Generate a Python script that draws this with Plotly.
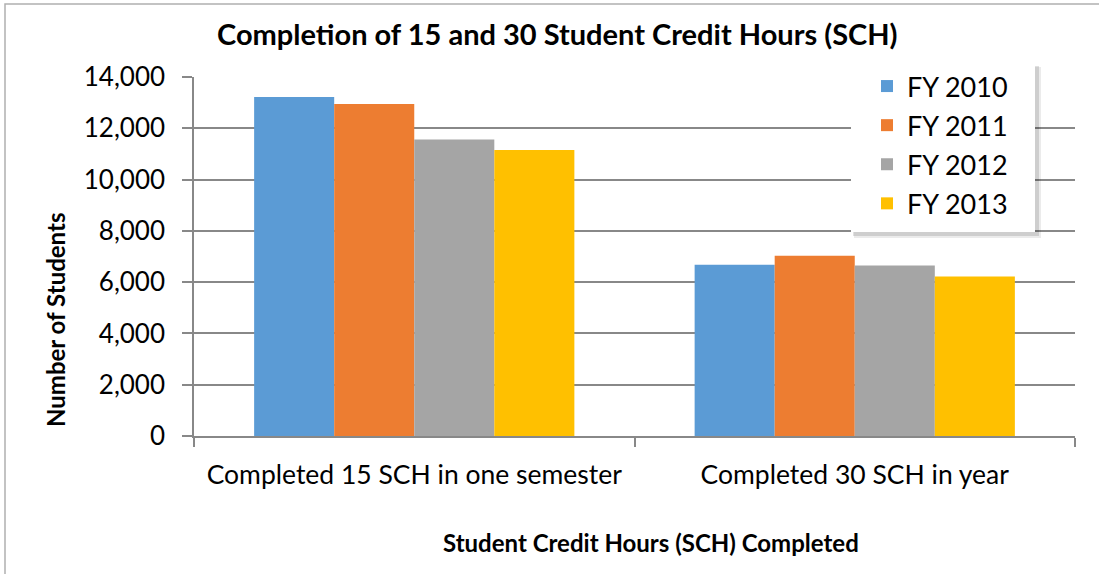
import plotly.graph_objects as go

categories = ["Completed 15 SCH in one semester", "Completed 30 SCH in year"]
series_names = ["FY 2010", "FY 2011", "FY 2012", "FY 2013"]
fy2010 = [13220, 6680]
fy2011 = [12950, 7030]
fy2012 = [11560, 6650]
fy2013 = [11150, 6220]
colors = ["#5B9BD5", "#ED7D31", "#A5A5A5", "#FFC000"]
y_ticks = [0, 2000, 4000, 6000, 8000, 10000, 12000, 14000]

W, H = 1099, 574
L, R, T, B = 194, 1075, 77, 436

def px(x):
    return (x - L) / (R - L)

def py(y):
    return (B - y) / (B - T)

FONT = "Lato"
fig = go.Figure()
for name, vals, c in zip(series_names, [fy2010, fy2011, fy2012, fy2013], colors):
    fig.add_trace(go.Bar(x=categories, y=vals, name=name, legendgroup=name,
                         marker=dict(color=c, line=dict(width=0))))

fig.update_layout(
    width=W, height=H,
    margin=dict(l=L, r=W - R, t=T, b=H - B, pad=0),
    paper_bgcolor="white", plot_bgcolor="white",
    barmode="group", bargap=0.273, bargroupgap=0,
    font=dict(family=FONT, color="black"),
    showlegend=True,
    legend=dict(
        x=px(867), y=py(62), xanchor="left", yanchor="top",
        bgcolor="rgba(0,0,0,0)", borderwidth=0,
        font=dict(family=FONT, size=27, color="black"),
        tracegroupgap=1, itemsizing="constant",
    ),
    xaxis=dict(
        showline=True, linecolor="#888888", linewidth=1.5,
        ticks="outside", tickson="boundaries", ticklen=9, tickcolor="#888888", tickwidth=1.5,
        tickfont=dict(family=FONT, size=26.5, color="black"),
        ticklabelstandoff=14,
        showgrid=False,
    ),
    yaxis=dict(
        range=[0, 14000], tickvals=y_ticks, tickformat=",",
        showline=True, linecolor="#888888", linewidth=1.5,
        ticks="outside", ticklen=10, tickcolor="#888888", tickwidth=1.5,
        showgrid=True, gridcolor="#888888", gridwidth=1.5,
        tickfont=dict(family=FONT, size=26, color="black"),
        ticklabelstandoff=12,
        zeroline=False,
    ),
    shapes=[
        dict(type="rect", xref="paper", yref="paper",
             x0=px(5), x1=px(1110), y0=py(4), y1=py(600),
             line=dict(color="#B0B0B0", width=1.5), fillcolor="rgba(0,0,0,0)", layer="below"),
        dict(type="rect", xref="paper", yref="paper",
             x0=px(854), x1=px(1041), y0=py(67), y1=py(238),
             line=dict(width=0), fillcolor="rgba(0,0,0,0.08)", layer="above"),
        dict(type="rect", xref="paper", yref="paper",
             x0=px(853), x1=px(1039), y0=py(66), y1=py(236),
             line=dict(width=0), fillcolor="rgba(0,0,0,0.12)", layer="above"),
        dict(type="rect", xref="paper", yref="paper",
             x0=px(851), x1=px(1035), y0=py(64), y1=py(232),
             line=dict(width=0), fillcolor="white", layer="above"),
    ],
    annotations=[
        dict(text="<b>Completion of 15 and 30 Student Credit Hours (SCH)</b>", xref="paper", yref="paper",
             x=px(557), y=py(33), xanchor="center", yanchor="middle", showarrow=False,
             font=dict(family=FONT, size=29, color="black")),
        dict(text="<b>Number of Students</b>", xref="paper", yref="paper",
             x=px(55), y=py(320), xanchor="center", yanchor="middle", showarrow=False, textangle=-90,
             font=dict(family=FONT, size=24, color="black")),
        dict(text="<b>Student Credit Hours (SCH) Completed</b>", xref="paper", yref="paper",
             x=px(651), y=py(542), xanchor="center", yanchor="middle", showarrow=False,
             font=dict(family=FONT, size=24, color="black")),
    ],
)

fig.write_html("out.html", config={"displayModeBar": False})
with open("out.html", "r", encoding="utf-8") as f:
    html = f.read()
html = html.replace("<body>", '<body style="margin:0;padding:0;overflow:hidden">', 1)
with open("out.html", "w", encoding="utf-8") as f:
    f.write(html)
